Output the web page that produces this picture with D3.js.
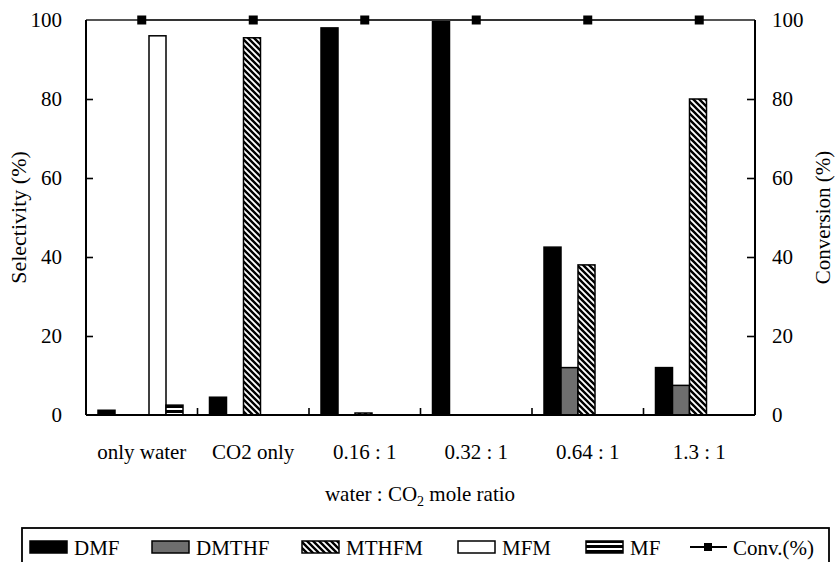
<!DOCTYPE html>
<html><head><meta charset="utf-8">
<script src="https://cdn.jsdelivr.net/npm/d3@7"></script>
<style>body{margin:0;background:#fff}svg{display:block}text{font-family:"Liberation Serif","Times New Roman",serif;fill:#000}</style>
</head><body><svg id="c" width="837" height="562"></svg>
<script>
const categories = ["only water","CO2 only","0.16 : 1","0.32 : 1","0.64 : 1","1.3 : 1"];
const seriesNames = ["DMF","DMTHF","MTHFM","MFM","MF"];
const DMF    = [1.2, 4.5, 98, 100, 42.5, 12];
const DMTHF  = [0, 0, 0, 0, 12, 7.5];
const MTHFM  = [0, 95.5, 0.5, 0, 38, 80];
const MFM    = [96, 0, 0, 0, 0, 0];
const MF     = [2.5, 0, 0, 0, 0, 0];
const conversion = [100, 100, 100, 100, 100, 100];
const yTicks = [0, 20, 40, 60, 80, 100];

const seriesData = {DMF, DMTHF, MTHFM, MFM, MF};
const W = 837, H = 562;
const m = {l: 86, r: 82, t: 20, b: 147};
const FS = 21;
const svg = d3.select("#c");
const defs = svg.append("defs");
const diag = defs.append("pattern").attr("id","diag").attr("patternUnits","userSpaceOnUse")
  .attr("width",6).attr("height",6);
diag.append("rect").attr("width",6).attr("height",6).attr("fill","#fff");
diag.append("path").attr("d","M-1,-1 L7,7 M-4,2 L1,7 M2,-4 L7,1").attr("stroke","#000").attr("stroke-width",2.4);
const horiz = defs.append("pattern").attr("id","horiz").attr("patternUnits","userSpaceOnUse")
  .attr("width",6).attr("height",5);
horiz.append("rect").attr("width",6).attr("height",5).attr("fill","#000");
horiz.append("rect").attr("y",3).attr("width",6).attr("height",2).attr("fill","#fff");

const fills = {DMF:"#000", DMTHF:"#6e6e6e", MTHFM:"url(#diag)", MFM:"#fff", MF:"url(#horiz)"};

const x0 = d3.scaleBand().domain(categories).range([m.l, W - m.r]).padding(0);
const x1 = d3.scaleBand().domain(seriesNames).range([12, x0.bandwidth() - 14.5]).padding(0);
const y = d3.scaleLinear().domain([0, 100]).range([H - m.b, m.t]);

// bars
seriesNames.forEach(s => {
  svg.append("g").selectAll("rect").data(seriesData[s].map((v,i)=>({v, c: categories[i]})).filter(d=>d.v>0))
    .join("rect")
    .attr("x", d => x0(d.c) + x1(s))
    .attr("y", d => y(d.v))
    .attr("width", x1.bandwidth())
    .attr("height", d => y(0) - y(d.v))
    .attr("fill", fills[s])
    .attr("stroke", "#000").attr("stroke-width", 1.5);
});

// top frame
svg.append("line").attr("x1", m.l).attr("x2", W - m.r).attr("y1", y(100)).attr("y2", y(100))
  .attr("stroke","#555").attr("stroke-width",2);

// left axis
const yl = svg.append("g").attr("transform",`translate(${m.l},0)`)
  .call(d3.axisRight(y).tickValues(yTicks).tickSize(7).tickFormat(""));
yl.select(".domain").attr("stroke","#000").attr("stroke-width",2).attr("d",`M0,${y(0)}V${y(100)}`);
yl.selectAll(".tick line").attr("stroke","#000").attr("stroke-width",1.6);
yl.selectAll(".tick").filter(d=>d===0||d===100).select("line").remove();
svg.append("g").selectAll("text").data(yTicks).join("text")
  .attr("x", m.l - 24).attr("y", d => y(d)).attr("dy","0.35em")
  .attr("text-anchor","end").attr("font-size",FS).text(d=>d);

// right axis
const yr = svg.append("g").attr("transform",`translate(${W - m.r},0)`)
  .call(d3.axisLeft(y).tickValues(yTicks).tickSize(8).tickFormat(""));
yr.select(".domain").attr("stroke","#000").attr("stroke-width",2).attr("d",`M0,${y(0)}V${y(100)}`);
yr.selectAll(".tick line").attr("stroke","#000").attr("stroke-width",1.6);
yr.selectAll(".tick").filter(d=>d===0||d===100).select("line").remove();
svg.append("g").selectAll("text").data(yTicks).join("text")
  .attr("x", W - m.r + 17).attr("y", d => y(d)).attr("dy","0.35em")
  .attr("text-anchor","start").attr("font-size",FS).text(d=>d);

// bottom axis
svg.append("line").attr("x1", m.l).attr("x2", W - m.r).attr("y1", y(0)).attr("y2", y(0))
  .attr("stroke","#000").attr("stroke-width",2);
svg.append("g").selectAll("line").data(categories.slice(1)).join("line")
  .attr("x1", d => x0(d)).attr("x2", d => x0(d)).attr("y1", y(0)).attr("y2", y(0) - 7)
  .attr("stroke","#000").attr("stroke-width",1.6);
svg.append("g").selectAll("text").data(categories).join("text")
  .attr("x", d => x0(d) + x0.bandwidth()/2).attr("y", 459)
  .attr("text-anchor","middle").attr("font-size",FS).text(d=>d);

// axis titles
const xt = svg.append("text").attr("x", 420).attr("y", 501).attr("text-anchor","middle").attr("font-size",FS);
xt.append("tspan").text("water : CO");
xt.append("tspan").attr("font-size",14).attr("dy",5).text("2");
xt.append("tspan").attr("dy",-5).text(" mole ratio");
svg.append("text").attr("transform",`translate(26,${(y(0)+y(100))/2}) rotate(-90)`)
  .attr("text-anchor","middle").attr("font-size",22).text("Selectivity (%)");
svg.append("text").attr("transform",`translate(830,${(y(0)+y(100))/2}) rotate(-90)`)
  .attr("text-anchor","middle").attr("font-size",21).text("Conversion (%)");

// conversion line
const cx = d => x0(d) + x0.bandwidth()/2;
svg.append("path").datum(conversion)
  .attr("d", d3.line().x((d,i)=>cx(categories[i])).y(d=>y(d)))
  .attr("fill","none").attr("stroke","#333").attr("stroke-width",2);
svg.append("g").selectAll("rect").data(conversion).join("rect")
  .attr("x",(d,i)=>cx(categories[i]) - 4.5).attr("y", d=>y(d)-4.5)
  .attr("width",9).attr("height",9).attr("fill","#000");

// legend
svg.append("rect").attr("x",22).attr("y",528).attr("width",807).attr("height",50)
  .attr("fill","none").attr("stroke","#000").attr("stroke-width",1.8);
const legX = [30, 152, 302, 458, 586];
const lg = svg.append("g");
seriesNames.forEach((s,i) => {
  lg.append("rect").attr("x", legX[i]).attr("y", 541).attr("width", 37).attr("height", 12)
    .attr("fill", fills[s]).attr("stroke","#000").attr("stroke-width",1.5);
  lg.append("text").attr("x", legX[i] + 44).attr("y", 555).attr("font-size",FS).text(s);
});
lg.append("line").attr("x1",690).attr("x2",727).attr("y1",547).attr("y2",547).attr("stroke","#000").attr("stroke-width",2);
lg.append("rect").attr("x",704).attr("y",543).attr("width",8).attr("height",8).attr("fill","#000");
lg.append("text").attr("x",733).attr("y",555).attr("font-size",FS).text("Conv.(%)");
</script></body></html>
